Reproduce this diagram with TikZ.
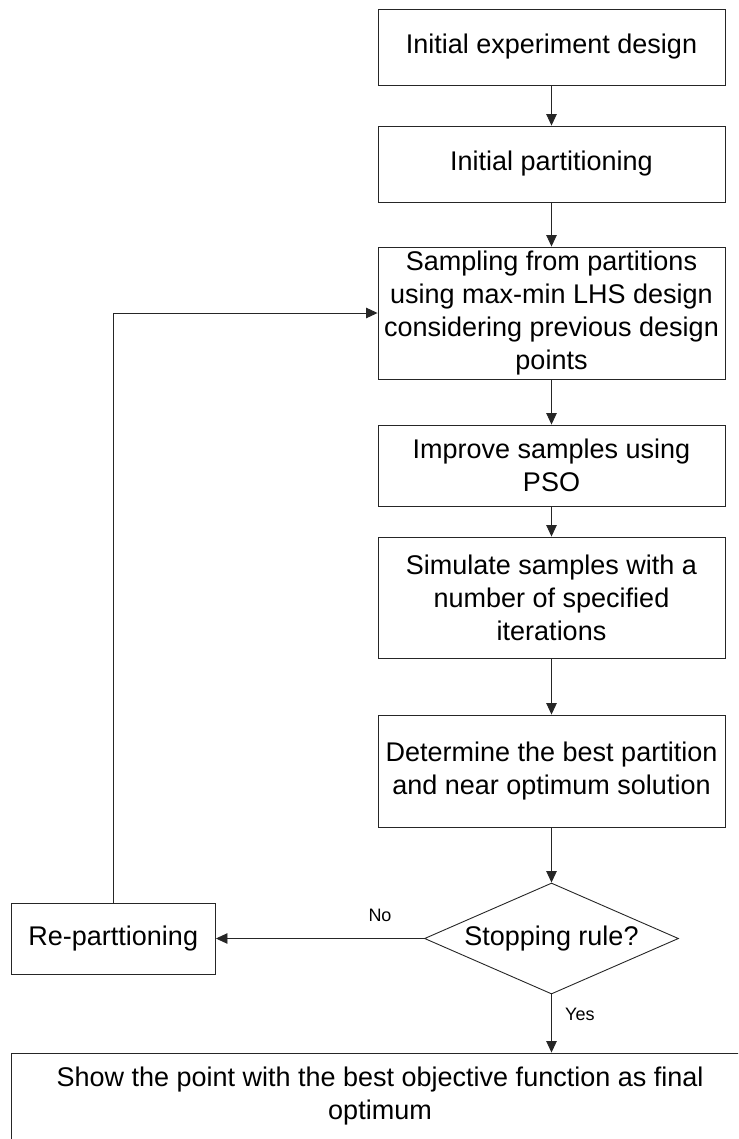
\documentclass[tikz,border=0pt]{standalone}
\usepackage{fontspec}
\setmainfont{Liberation Sans}
\usetikzlibrary{shapes.geometric,arrows.meta}
\begin{document}
\begin{tikzpicture}[x=1pt,y=-1pt,
  every node/.style={font=\fontsize{27}{33}\selectfont, align=center, inner sep=0pt},
  stepbox/.style={draw=black!85, line width=0.9pt, minimum width=347pt},
  decision/.style={draw=black!85, line width=0.9pt, diamond, shape aspect=2.29, minimum width=254pt, minimum height=111pt},
  conn/.style={draw=black!85, line width=0.9pt, -{Triangle[length=11.5pt,width=10.5pt]}},
  lbl/.style={font=\fontsize{18}{20}\selectfont}
]
\useasboundingbox (0,0) rectangle (738,1139);
\clip (0,0) rectangle (738,1139);
\node[stepbox, minimum height=76pt] (b1) at (551.5,47) {Initial experiment design};
\node[stepbox, minimum height=76pt] (b2) at (551.5,164) {Initial partitioning};
\node[stepbox, minimum height=132pt] (b3) at (551.5,313) {Sampling from partitions\\using max-min LHS design\\considering previous design\\points};
\node[stepbox, minimum height=81pt] (b4) at (551.5,465.5) {Improve samples using\\PSO};
\node[stepbox, minimum height=121pt] (b5) at (551.5,597.5) {Simulate samples with a\\number of specified\\iterations};
\node[stepbox, minimum height=112pt] (b6) at (551.5,771) {Determine the best partition\\and near optimum solution};
\node[decision] (d) at (551.5,938.5) {Stopping rule?};
\node[draw=black!85, line width=0.9pt, minimum width=204.5pt, minimum height=71pt] (rp) at (113.25,938.5) {Re-parttioning};
\node[draw=black!85, line width=0.9pt, minimum width=738pt, minimum height=87pt] (fin) at (380,1096.5) {Show the point with the best objective function as final\\optimum};
\draw[conn] (b1) -- (b2);
\draw[conn] (b2) -- (b3);
\draw[conn] (b3) -- (b4);
\draw[conn] (b4) -- (b5);
\draw[conn] (b5) -- (b6);
\draw[conn] (b6) -- (d);
\draw[conn] (d.west) -- (rp.east);
\draw[conn] (rp.north) |- (b3.west);
\draw[conn] (d.south) -- (d.south |- fin.north);
\node[lbl] (no) at (380,915) {No};
\node[lbl, anchor=west] (yes) at (565,1014) {Yes};
\end{tikzpicture}
\end{document}
